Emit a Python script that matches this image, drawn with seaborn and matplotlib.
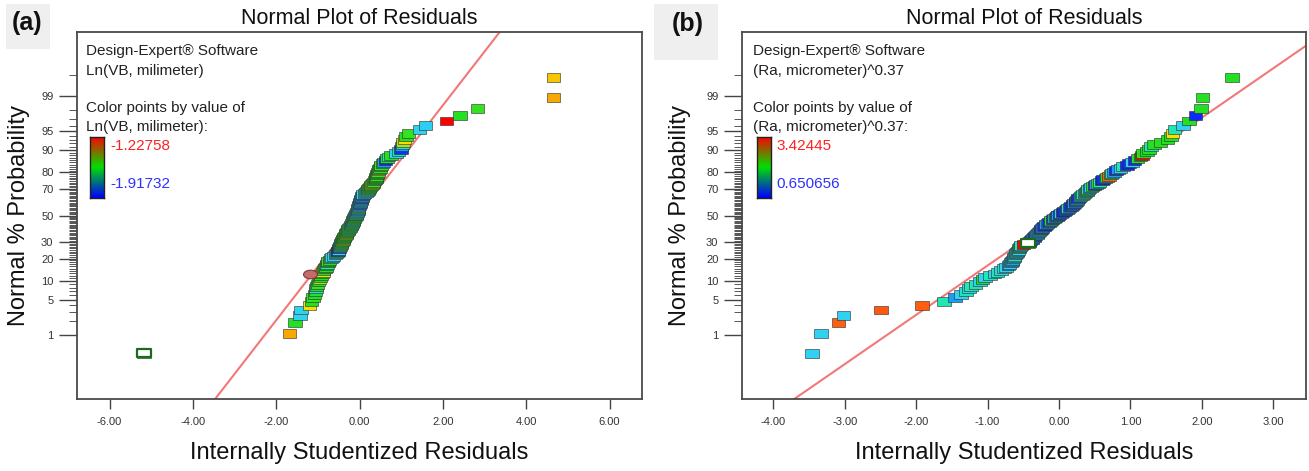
import numpy as np
import pandas as pd
import matplotlib
matplotlib.use("Agg")
import matplotlib.pyplot as plt
import matplotlib.ticker as mticker
from matplotlib.path import Path
from matplotlib.colors import LinearSegmentedColormap, Normalize
from matplotlib.patches import Rectangle
import seaborn as sns
from statistics import NormalDist

# ---------------- data ----------------
panel_tags = ["(a)", "(b)"]
title_text = "Normal Plot of Residuals"
xlabel_text = "Internally Studentized Residuals"
ylabel_text = "Normal % Probability"
software_text = "Design-Expert\u00ae Software"

a_response = "Ln(VB, milimeter)"
a_range = [-1.91732, -1.22758]
a_range_labels = ["-1.22758", "-1.91732"]
a_resid = [
    -5.17, -1.68, -1.55, -1.43, -1.40, -1.20, -1.15, -1.12, -1.08, -1.06,
    -1.05, -1.03, -1.01, -0.98, -0.96, -0.94, -0.92, -0.90, -0.88, -0.86,
    -0.83, -0.81, -0.79, -0.78, -0.76, -0.75, -0.72, -0.69, -0.66, -0.62,
    -0.58, -0.55, -0.53, -0.51, -0.50, -0.49, -0.48, -0.47, -0.46, -0.45,
    -0.44, -0.43, -0.42, -0.40, -0.39, -0.38, -0.37, -0.36, -0.34, -0.33,
    -0.32, -0.31, -0.29, -0.28, -0.27, -0.25, -0.23, -0.22, -0.20, -0.19,
    -0.18, -0.17, -0.16, -0.15, -0.14, -0.13, -0.12, -0.11, -0.10, -0.09,
    -0.08, -0.07, -0.06, -0.05, -0.04, -0.03, -0.03, -0.02, -0.02, -0.01,
    0.00, 0.01, 0.01, 0.02, 0.03, 0.04, 0.05, 0.06, 0.06, 0.07,
    0.09, 0.12, 0.15, 0.18, 0.20, 0.21, 0.23, 0.24, 0.26, 0.28,
    0.30, 0.32, 0.34, 0.36, 0.38, 0.39, 0.40, 0.41, 0.42, 0.43,
    0.44, 0.46, 0.47, 0.49, 0.50, 0.52, 0.55, 0.58, 0.62, 0.66,
    0.70, 0.76, 0.88, 0.94, 0.99, 1.01, 1.03, 1.05, 1.08, 1.12,
    1.18, 1.44, 1.58, 2.09, 2.41, 2.83, 4.66, 4.66]
a_value = [
    -1.57, -1.33, -1.57, -1.72, -1.72, -1.40, -1.57, -1.56, -1.57, -1.58,
    -1.72, -1.57, -1.56, -1.57, -1.49, -1.57, -1.58, -1.57, -1.40, -1.57,
    -1.56, -1.57, -1.58, -1.65, -1.57, -1.56, -1.57, -1.65, -1.72, -1.73,
    -1.65, -1.72, -1.57, -1.90, -1.72, -1.89, -1.72, -1.57, -1.73, -1.56,
    -1.65, -1.57, -1.58, -1.40, -1.57, -1.56, -1.57, -1.58, -1.57, -1.41,
    -1.57, -1.56, -1.57, -1.65, -1.57, -1.58, -1.72, -1.57, -1.56, -1.57,
    -1.72, -1.57, -1.58, -1.73, -1.57, -1.56, -1.57, -1.72, -1.57, -1.58,
    -1.72, -1.57, -1.73, -1.72, -1.79, -1.72, -1.57, -1.72, -1.73, -1.72,
    -1.90, -1.72, -1.79, -1.73, -1.72, -1.79, -1.89, -1.72, -1.73, -1.90,
    -1.72, -1.65, -1.72, -1.73, -1.72, -1.57, -1.56, -1.57, -1.58, -1.57,
    -1.40, -1.57, -1.56, -1.57, -1.58, -1.57, -1.56, -1.57, -1.58, -1.57,
    -1.56, -1.41, -1.57, -1.58, -1.57, -1.56, -1.57, -1.79, -1.90, -1.57,
    -1.65, -1.57, -1.72, -1.65, -1.89, -1.79, -1.72, -1.49, -1.40, -1.57,
    -1.56, -1.72, -1.73, -1.23, -1.57, -1.56, -1.33, -1.37]
a_open_index = [0]
a_extra_resid = [-1.18]
a_extra_prob = [12.5]
a_line_intercept = -0.05
a_line_slope = 0.954
a_xticks = [-6, -4, -2, 0, 2, 4, 6]
a_xlim = [-6.78, 6.78]

b_response = "(Ra, micrometer)^0.37"
b_range = [0.650656, 3.42445]
b_range_labels = ["3.42445", "0.650656"]
b_resid = [
    -3.46, -3.33, -3.09, -3.02, -2.49, -1.92, -1.61, -1.46, -1.37, -1.30,
    -1.26, -1.23, -1.17, -1.11, -1.07, -1.04, -0.97, -0.90, -0.86, -0.81,
    -0.77, -0.74, -0.71, -0.69, -0.67, -0.66, -0.65, -0.64, -0.63, -0.62,
    -0.61, -0.60, -0.59, -0.58, -0.57, -0.56, -0.55, -0.54, -0.53, -0.50,
    -0.43, -0.42, -0.41, -0.40, -0.38, -0.37, -0.35, -0.34, -0.33, -0.31,
    -0.30, -0.29, -0.27, -0.26, -0.25, -0.24, -0.23, -0.21, -0.19, -0.18,
    -0.16, -0.14, -0.12, -0.11, -0.09, -0.07, -0.05, -0.03, -0.02, -0.01,
    0.01, 0.03, 0.05, 0.07, 0.09, 0.11, 0.13, 0.15, 0.17, 0.19,
    0.20, 0.21, 0.23, 0.24, 0.25, 0.26, 0.27, 0.29, 0.30, 0.32,
    0.34, 0.36, 0.37, 0.39, 0.40, 0.41, 0.43, 0.45, 0.47, 0.50,
    0.52, 0.55, 0.57, 0.60, 0.62, 0.65, 0.67, 0.70, 0.73, 0.74,
    0.77, 0.80, 0.83, 0.86, 0.90, 0.95, 0.98, 1.02, 1.06, 1.10,
    1.14, 1.16, 1.18, 1.23, 1.26, 1.29, 1.33, 1.42, 1.52, 1.57,
    1.59, 1.62, 1.74, 1.82, 1.91, 1.99, 2.01, 2.42]
b_value = [
    1.43, 1.44, 3.20, 1.43, 3.21, 3.20, 1.71, 1.15, 1.43, 1.70,
    1.43, 1.71, 1.70, 1.44, 2.04, 1.43, 1.71, 1.43, 1.70, 1.44,
    1.71, 1.43, 1.15, 1.43, 1.16, 1.71, 1.15, 1.43, 1.44, 1.70,
    1.15, 1.43, 1.71, 1.16, 1.43, 2.04, 1.15, 1.44, 1.71, 3.42,
    2.04, 0.73, 0.74, 1.15, 0.73, 1.43, 1.16, 0.73, 1.15, 1.44,
    1.15, 1.16, 1.43, 2.04, 0.73, 1.15, 1.43, 0.74, 0.73, 1.16,
    1.71, 0.73, 1.43, 2.05, 0.74, 1.15, 2.04, 0.73, 2.03, 1.16,
    0.73, 1.43, 0.74, 0.73, 1.15, 0.73, 1.71, 1.16, 0.74, 1.43,
    0.73, 1.15, 1.44, 0.73, 1.70, 1.43, 0.74, 1.15, 1.43, 2.04,
    1.71, 1.44, 1.15, 2.04, 2.05, 1.70, 1.16, 1.43, 2.04, 0.73,
    1.15, 2.03, 1.71, 0.73, 0.74, 1.15, 2.04, 3.20, 2.04, 1.43,
    1.16, 0.73, 1.15, 1.44, 1.71, 0.73, 0.74, 1.43, 0.73, 2.04,
    2.05, 3.42, 2.04, 2.03, 2.04, 1.71, 2.04, 2.05, 2.04, 2.03,
    2.73, 1.70, 1.43, 2.04, 0.73, 2.04, 2.05, 2.04]
b_open_index = [40]
b_extra_resid = []
b_extra_prob = []
b_line_intercept = 0.015
b_line_slope = 1.04
b_xticks = [-4, -3, -2, -1, 0, 1, 2, 3]
b_xlim = [-4.44, 3.46]

prob_major = [1, 5, 10, 20, 30, 50, 70, 80, 90, 95, 99]
prob_minor = [p for p in range(2, 99) if p not in prob_major] + [99.7]
z_limit = 3.58

# ---------------- style ----------------
sns.set_style("white")
plt.rcParams["font.family"] = ["Liberation Sans", "DejaVu Sans"]

W, H = 1309, 471
fig = plt.figure(figsize=(W / 100, H / 100), dpi=100)
fig.patch.set_facecolor("white")


def fx(x):
    return x / W


def fy(y):
    return 1 - y / H


ND = NormalDist()


def _probit(p):
    try:
        q = float(p) / 100.0
        if not np.isfinite(q):
            return np.nan
        q = min(max(q, 1e-12), 1 - 1e-12)
        return ND.inv_cdf(q)
    except Exception:
        return np.nan


def _cdf(z):
    try:
        z = float(z)
        if not np.isfinite(z):
            return np.nan
        return ND.cdf(z) * 100.0
    except Exception:
        return np.nan


probit = np.vectorize(_probit, otypes=[float])
cdfpct = np.vectorize(_cdf, otypes=[float])

point_cmap = LinearSegmentedColormap.from_list("de", [
    (0.00, "#0a14ff"), (0.18, "#1c9cf4"), (0.28, "#30d2f2"), (0.38, "#22e6b4"),
    (0.50, "#22e022"), (0.62, "#a0e61e"), (0.75, "#f6e000"), (0.82, "#f6b800"),
    (0.86, "#f8a400"), (0.92, "#ff6010"), (1.00, "#ff0000")])
bar_cmap = LinearSegmentedColormap.from_list("bar", ["#0000ff", "#00e000", "#ff0000"])

rect_marker = Path([(-1, -0.66), (1, -0.66), (1, 0.66), (-1, 0.66), (-1, -0.66)],
                   [Path.MOVETO, Path.LINETO, Path.LINETO, Path.LINETO, Path.CLOSEPOLY])
circ = Path.unit_circle()
ellipse_marker = Path(circ.vertices * np.array([1.0, 0.62]), circ.codes)

panels = [
    dict(tag=panel_tags[0], resp=a_response, rng=a_range, rlab=a_range_labels,
         resid=a_resid, value=a_value, open_idx=a_open_index,
         ex_r=a_extra_resid, ex_p=a_extra_prob, li=a_line_intercept, ls=a_line_slope,
         xticks=a_xticks, xlim=a_xlim,
         box=(77, 32, 642, 399), tagbox=(6, 4, 50, 49), tagxy=(27, 23),
         textx=86, barx=(90, 104), labx=110, ylabx=19.5),
    dict(tag=panel_tags[1], resp=b_response, rng=b_range, rlab=b_range_labels,
         resid=b_resid, value=b_value, open_idx=b_open_index,
         ex_r=b_extra_resid, ex_p=b_extra_prob, li=b_line_intercept, ls=b_line_slope,
         xticks=b_xticks, xlim=b_xlim,
         box=(742, 32, 1306, 399), tagbox=(654, 4, 718, 60), tagxy=(688, 24),
         textx=753, barx=(757, 771), labx=776, ylabx=680),
]

for P in panels:
    l, t, r, b = P["box"]
    ax = fig.add_axes([fx(l), fy(b), fx(r - l), (b - t) / H])
    ax.set_yscale("function", functions=(probit, cdfpct))

    n = len(P["resid"])
    prob = (np.arange(1, n + 1) - 0.5) / n * 100.0
    df = pd.DataFrame({"resid": P["resid"], "prob": prob, "value": P["value"]})

    # reference line
    zl = np.array([-4.2, 4.2])
    ax.plot(P["li"] + P["ls"] * zl, cdfpct(zl), color="#f27878", lw=1.5, zorder=2)

    sns.scatterplot(data=df, x="resid", y="prob", hue="value", palette=point_cmap,
                    hue_norm=Normalize(*P["rng"]), marker=rect_marker, s=95,
                    edgecolor="#2a2a2a", linewidth=0.4, legend=False, ax=ax, zorder=3)
    if P["open_idx"]:
        od = df.iloc[P["open_idx"]]
        ax.scatter(od["resid"], od["prob"], marker=rect_marker, s=95, facecolor="white",
                   edgecolor="#1d6a1d", linewidths=1.6, zorder=4)
    if P["ex_r"]:
        ax.scatter(P["ex_r"], P["ex_p"], marker=ellipse_marker, s=100, facecolor="#c86a6a",
                   edgecolor="#7a3a3a", linewidths=0.8, zorder=4)

    ax.set_xlim(*P["xlim"])
    ax.set_ylim(cdfpct(-z_limit), cdfpct(z_limit))
    ax.set_xticks(P["xticks"])
    ax.xaxis.set_major_formatter(mticker.FormatStrFormatter("%.2f"))
    ax.yaxis.set_major_locator(mticker.FixedLocator(prob_major))
    ax.yaxis.set_major_formatter(mticker.FixedFormatter([str(p) for p in prob_major]))
    ax.yaxis.set_minor_locator(mticker.FixedLocator(prob_minor))
    ax.yaxis.set_minor_formatter(mticker.NullFormatter())
    ax.xaxis.set_minor_locator(mticker.NullLocator())

    ax.tick_params(axis="x", which="major", direction="out", length=7, width=1.0,
                   color="#444444", labelsize=8, labelcolor="#333333", pad=6,
                   bottom=True, top=False)
    ax.tick_params(axis="y", which="major", direction="out", length=13, width=1.0,
                   color="#444444", labelsize=8, labelcolor="#333333", pad=4,
                   left=True, right=False)
    ax.tick_params(axis="y", which="minor", direction="out", length=6, width=0.7,
                   color="#555555", left=True, right=False)
    for sp in ax.spines.values():
        sp.set_visible(True)
        sp.set_color("#4a4a4a")
        sp.set_linewidth(1.3)

    ax.set_xlabel(xlabel_text, fontsize=17, color="#111111")
    ax.xaxis.set_label_coords(0.5, (b - 453.5) / (b - t))
    ax.xaxis.label.set_va("center")
    ax.set_ylabel(ylabel_text, fontsize=17, color="#111111")
    ax.yaxis.set_label_coords((P["ylabx"] - l) / (r - l), 0.5)
    ax.yaxis.label.set_va("center")
    ax.set_title(title_text, fontsize=15.5, color="#111111", y=1 + (t - 19) / (b - t),
                 va="center", pad=0)

    # legend-like annotation
    tx = P["textx"]
    for txt, yy in [(software_text, 50.7), (P["resp"], 70.5),
                    ("Color points by value of", 108.3), (P["resp"] + ":", 127.3)]:
        fig.text(fx(tx), fy(yy), txt, fontsize=11, color="#222222", ha="left", va="center")
    fig.text(fx(P["labx"]), fy(146), P["rlab"][0], fontsize=11, color="#ff2020",
             ha="left", va="center")
    fig.text(fx(P["labx"]), fy(184.3), P["rlab"][1], fontsize=11, color="#3030ff",
             ha="left", va="center")
    bx0, bx1 = P["barx"]
    bax = fig.add_axes([fx(bx0), fy(198.3), fx(bx1 - bx0), (198.3 - 136.7) / H])
    bax.imshow(np.linspace(1, 0, 64).reshape(-1, 1), aspect="auto", cmap=bar_cmap)
    bax.set_xticks([])
    bax.set_yticks([])
    for sp in bax.spines.values():
        sp.set_visible(True)
        sp.set_color("#222222")
        sp.set_linewidth(1.0)

    # panel tag
    x0, y0, x1, y1 = P["tagbox"]
    fig.patches.append(Rectangle((fx(x0), fy(y1)), fx(x1 - x0), (y1 - y0) / H,
                                 transform=fig.transFigure, facecolor="#efefef",
                                 edgecolor="none", zorder=0))
    fig.text(fx(P["tagxy"][0]), fy(P["tagxy"][1]), P["tag"], fontsize=18,
             fontweight="bold", color="#111111", ha="center", va="center")

fig.savefig("out.png", dpi=100, facecolor="white")
